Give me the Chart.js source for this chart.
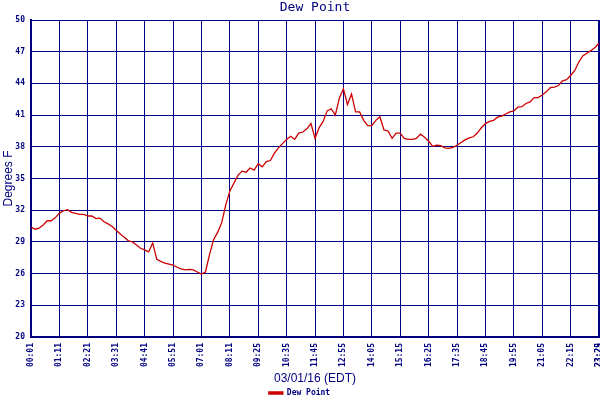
<!DOCTYPE html>
<html><head><meta charset="utf-8">
<script src="https://cdn.jsdelivr.net/npm/chart.js@4/dist/chart.umd.min.js"></script>
<style>html,body{margin:0;padding:0;background:#fff}#wrap{width:600px;height:400px}</style>
</head><body><div id="wrap"><canvas id="c" width="600" height="400"></canvas></div>
<script>
const timeLabels = ['00:01','01:11','02:21','03:31','04:41','05:51','07:01','08:11','09:25','10:35','11:45','12:55','14:05','15:15','16:25','17:35','18:45','19:55','21:05','22:15','23:25'];
const endLabel = '23:29';
const yTicks = [20,23,26,29,32,35,38,41,44,47,50];
const samplesPerLabel = 14;
const sampleStep = 2;
const dewPoint = [
30.4,30.2,30.3,30.6,31.0,31.0,31.3,31.7,31.95,32.05,
31.8,31.7,31.6,31.6,31.45,31.45,31.2,31.25,30.9,30.7,
30.45,30.1,29.75,29.45,29.1,29.0,28.7,28.4,28.25,28.05,
28.9,27.35,27.15,27.0,26.9,26.8,26.6,26.45,26.35,26.4,
26.35,26.15,25.95,26.15,27.8,29.2,29.9,30.8,32.5,33.8,
34.55,35.3,35.7,35.6,36.0,35.8,36.4,36.1,36.6,36.7,
37.4,37.9,38.3,38.7,39.0,38.7,39.3,39.4,39.7,40.2,
38.8,39.8,40.4,41.4,41.6,41.0,42.6,43.5,42.0,43.0,
41.3,41.3,40.5,40.0,40.0,40.5,40.85,39.6,39.5,38.8,
39.3,39.3,38.8,38.7,38.7,38.8,39.2,38.9,38.55,38.05,
38.15,38.1,37.9,37.85,37.95,38.15,38.4,38.65,38.85,38.95,
39.3,39.8,40.2,40.4,40.5,40.8,40.9,41.1,41.3,41.4,
41.75,41.8,42.1,42.25,42.65,42.65,42.9,43.2,43.6,43.65,
43.8,44.25,44.35,44.75,45.2,46.0,46.6,46.85,47.1,47.4,
47.8
];
const NAVY = '#000080';
const lastIndex = (timeLabels.length - 1) * samplesPerLabel;
const tickFont = {family:'DejaVu Sans Mono', size:8, weight:'bold'};
const labelFont = {family:'Liberation Sans', size:12, weight:'normal'};

new Chart(document.getElementById('c'), {
  type: 'line',
  data: {
    datasets: [{
      label: 'Dew Point',
      data: dewPoint.map((v, k) => ({x: k * sampleStep, y: v})),
      borderColor: '#cc0000',
      backgroundColor: '#cc0000',
      borderWidth: 1.3,
      pointRadius: 0,
      tension: 0
    }]
  },
  options: {
    responsive: false,
    animation: false,
    layout: {padding: {left: 0, right: 1, top: 0, bottom: 0}},
    plugins: {
      title: {display: true, fullSize: false, text: 'Dew Point', color: NAVY,
        font: {family: 'DejaVu Sans Mono', size: 13, weight: 'normal'},
        padding: {top: 0, bottom: 4.4}},
      legend: {position: 'bottom', maxHeight: 14,
        labels: {color: NAVY, font: {family: 'DejaVu Sans Mono', size: 8, weight: 'bold'}, boxWidth: 14, boxHeight: 2, padding: 3}},
      tooltip: {enabled: false}
    },
    scales: {
      x: {
        type: 'linear', min: 0, max: lastIndex,
        afterBuildTicks: s => { s.ticks = timeLabels.map((l, k) => ({value: k * samplesPerLabel})).concat([{value: lastIndex}]); },
        afterFit: s => { s.height = 49; s.paddingRight = 0; s.paddingLeft = 0; },
        ticks: {autoSkip: false, maxRotation: 90, minRotation: 90, color: NAVY, font: tickFont, padding: 6,
          callback: (v, i) => i < timeLabels.length ? timeLabels[i] : endLabel},
        grid: {color: NAVY, lineWidth: c => (c.index >= timeLabels.length - 1 ? 3 : 1), drawTicks: false},
        border: {color: NAVY, width: 2},
        title: {display: true, text: '03/01/16 (EDT)', color: NAVY, font: labelFont, padding: {top: 2, bottom: 0}}
      },
      y: {
        min: 20, max: 50,
        afterBuildTicks: s => { s.ticks = yTicks.map(v => ({value: v})); },
        afterFit: s => { s.width = 31; },
        ticks: {color: NAVY, font: tickFont, padding: 6},
        grid: {color: NAVY, lineWidth: 1, drawTicks: false},
        border: {color: NAVY, width: 2},
        title: {display: true, text: 'Degrees F', color: NAVY, font: labelFont, padding: {top: 1, bottom: 2}}
      }
    }
  }
});
</script></body></html>
